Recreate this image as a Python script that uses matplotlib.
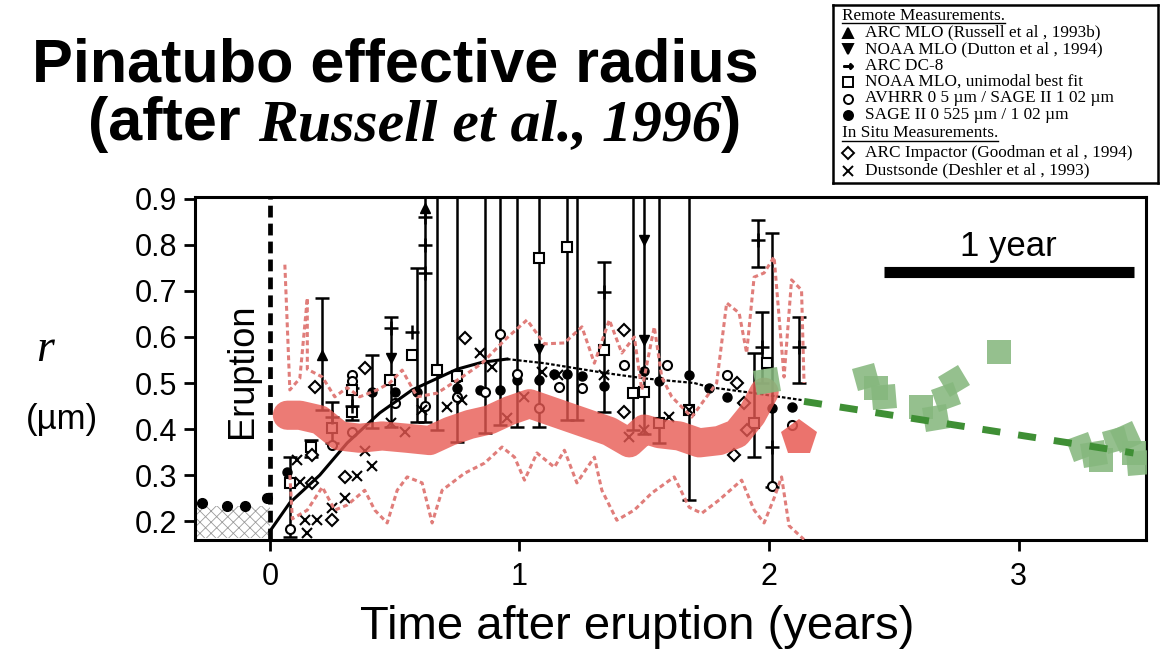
import matplotlib
matplotlib.use("Agg")
import matplotlib.pyplot as plt
from matplotlib.markers import MarkerStyle
from matplotlib.transforms import Affine2D
import numpy as np

plt.rcParams['font.family'] = ['Liberation Sans', 'DejaVu Sans']
plt.rcParams['hatch.linewidth'] = 0.6

# ---------------- data (time after eruption in years, radius in um) ----------------
pre_t = [-0.27, -0.17, -0.10, -0.01]
pre_r = [0.239, 0.233, 0.233, 0.25]

fit_solid_t = [0.0, 0.08, 0.2, 0.31, 0.44, 0.57, 0.75, 0.85, 0.95]
fit_solid_r = [0.178, 0.24, 0.30, 0.37, 0.435, 0.485, 0.53, 0.545, 0.552]
fit_dot_t = [0.95, 1.10, 1.34, 1.50, 1.70, 1.76, 1.94, 2.13]
fit_dot_r = [0.552, 0.543, 0.522, 0.51, 0.50, 0.491, 0.478, 0.463]

band_t = [0.07, 0.12, 0.2, 0.28, 0.36, 0.45, 0.55, 0.64, 0.72, 0.8, 0.88, 0.96, 1.04,
          1.12, 1.2, 1.28, 1.36, 1.44, 1.5, 1.56, 1.64, 1.72, 1.8, 1.87, 1.93, 1.98]
band_r = [0.43, 0.43, 0.42, 0.385, 0.38, 0.385, 0.38, 0.375, 0.395, 0.41, 0.42, 0.44, 0.455,
          0.44, 0.425, 0.41, 0.395, 0.37, 0.40, 0.39, 0.385, 0.37, 0.375, 0.39, 0.43, 0.48]
blob_t = [2.12]
blob_r = [0.38]

upper_t = [0.06, 0.08, 0.12, 0.15, 0.15, 0.21, 0.26, 0.31, 0.36, 0.43, 0.48, 0.53, 0.59, 0.67,
           0.77, 0.85, 0.94, 1.03, 1.10, 1.18, 1.25, 1.30, 1.36, 1.41, 1.46, 1.49, 1.54, 1.57,
           1.61, 1.69, 1.72, 1.79, 1.83, 1.88, 1.91, 1.94, 1.98, 2.02, 2.06, 2.09, 2.13, 2.14]
upper_r = [0.757, 0.485, 0.51, 0.685, 0.53, 0.513, 0.47, 0.49, 0.47, 0.485, 0.50, 0.528, 0.47, 0.478,
           0.513, 0.543, 0.593, 0.637, 0.585, 0.587, 0.622, 0.543, 0.637, 0.565, 0.6, 0.485, 0.622, 0.513,
           0.47, 0.426, 0.448, 0.5, 0.674, 0.652, 0.565, 0.73, 0.739, 0.774, 0.513, 0.724, 0.702, 0.5]
lower_t = [0.08, 0.09, 0.15, 0.21, 0.26, 0.31, 0.38, 0.42, 0.47, 0.51, 0.55, 0.61, 0.65, 0.69, 0.78,
           0.86, 0.93, 0.98, 1.02, 1.07, 1.14, 1.18, 1.23, 1.30, 1.33, 1.39, 1.46, 1.53, 1.62, 1.68,
           1.73, 1.80, 1.89, 1.94, 1.98, 2.02, 2.05, 2.08, 2.14]
lower_r = [0.30, 0.205, 0.224, 0.274, 0.224, 0.235, 0.267, 0.224, 0.196, 0.267, 0.296, 0.283, 0.196,
           0.267, 0.304, 0.326, 0.361, 0.339, 0.289, 0.348, 0.317, 0.354, 0.283, 0.339, 0.267, 0.202,
           0.224, 0.261, 0.296, 0.23, 0.217, 0.246, 0.289, 0.224, 0.196, 0.25, 0.296, 0.19, 0.16]

eb_t  = [0.08, 0.165, 0.21, 0.25, 0.33, 0.41, 0.485, 0.59, 0.62, 0.67, 0.75, 0.86, 0.92, 0.99,
         1.08, 1.19, 1.23, 1.34, 1.455, 1.50, 1.56, 1.68, 1.94, 1.957, 1.97, 2.01, 2.12]
eb_lo = [0.165, 0.339, 0.441, 0.369, 0.42, 0.402, 0.405, 0.415, 0.415, 0.398, 0.372, 0.391, 0.409,
         0.405, 0.405, 0.42, 0.42, 0.437, 0.398, 0.39, 0.369, 0.246, 0.339, 0.752, 0.50, 0.274, 0.50]
eb_hi = [0.34, 0.376, 0.685, 0.459, 0.49, 0.561, 0.643, 0.75, 1.0, 1.0, 1.0, 1.0, 1.0,
         1.0, 1.0, 1.0, 1.0, 0.763, 1.0, 1.0, 1.0, 1.0, 0.565, 0.854, 0.654, 0.826, 0.643]

sage_fill_t = [0.07, 0.41, 0.50, 0.59, 0.75, 0.75, 0.84, 0.92, 0.99, 1.08, 1.14, 1.19, 1.25, 1.34,
               1.50, 1.56, 1.68, 1.76, 1.83, 2.01, 2.09]
sage_fill_r = [0.307, 0.48, 0.48, 0.48, 0.51, 0.49, 0.485, 0.485, 0.507, 0.507, 0.52, 0.52, 0.515,
               0.493, 0.525, 0.505, 0.517, 0.489, 0.47, 0.445, 0.448]
avhrr_t = [0.08, 0.33, 0.33, 0.25, 0.33, 0.50, 0.62, 0.75, 0.86, 0.92, 0.99, 1.08, 1.16, 1.25, 1.42,
           1.59, 1.83, 2.09, 2.01]
avhrr_r = [0.183, 0.517, 0.505, 0.365, 0.394, 0.456, 0.45, 0.47, 0.48, 0.606, 0.52, 0.445, 0.491,
           0.489, 0.54, 0.539, 0.517, 0.409, 0.276]
noaa_fit_t = [0.08, 0.165, 0.25, 0.33, 0.33, 0.48, 0.57, 0.67, 0.75, 1.08, 1.19, 1.34, 1.455, 1.50,
              1.56, 1.68, 1.94, 1.99]
noaa_fit_r = [0.283, 0.36, 0.402, 0.485, 0.437, 0.507, 0.561, 0.528, 0.515, 0.772, 0.796, 0.572,
              0.478, 0.48, 0.413, 0.441, 0.413, 0.543]
impactor_t = [0.17, 0.17, 0.18, 0.25, 0.30, 0.38, 0.78, 1.42, 1.42, 1.87, 1.86, 1.90, 1.91]
impactor_r = [0.283, 0.343, 0.491, 0.202, 0.296, 0.533, 0.598, 0.615, 0.437, 0.50, 0.343, 0.456, 0.398]
dust_t = [0.11, 0.12, 0.14, 0.19, 0.25, 0.30, 0.35, 0.41, 0.38, 0.485, 0.54, 0.15, 0.61, 0.71, 0.77,
          0.84, 0.89, 0.95, 1.02, 1.09, 1.155, 1.34, 1.44, 1.50, 1.60, 1.68]
dust_r = [0.333, 0.285, 0.202, 0.202, 0.228, 0.25, 0.298, 0.32, 0.352, 0.413, 0.394, 0.174, 0.441,
          0.448, 0.463, 0.565, 0.535, 0.424, 0.47, 0.524, 0.517, 0.517, 0.383, 0.398, 0.426, 0.441]
arc_mlo_t = [0.21, 0.62]
arc_mlo_r = [0.561, 0.88]
noaa_mlo_t = [0.485, 1.08, 1.50, 1.50]
noaa_mlo_r = [0.555, 0.574, 0.81, 0.593]
dc8_t = [0.25, 0.33, 0.485, 0.57, 0.62, 0.62, 0.62, 1.34, 1.957, 1.97, 2.01, 2.12]
dc8_r = [0.426, 0.45, 0.62, 0.61, 0.86, 0.80, 0.74, 0.698, 0.81, 0.578, 0.361, 0.578]

green_t = [1.99, 2.39, 2.43, 2.46, 2.61, 2.67, 2.71, 2.74, 2.92, 3.25, 3.30, 3.33, 3.39, 3.43, 3.46, 3.48]
green_r = [0.505, 0.513, 0.49, 0.47, 0.448, 0.424, 0.47, 0.505, 0.567, 0.361, 0.345, 0.333, 0.376,
           0.383, 0.348, 0.326]
green_ang = [10, 15, 0, 5, 0, 10, 20, 30, 0, 20, 10, 0, 15, 25, 0, 5]
trend_t = [2.14, 3.46]
trend_r = [0.46, 0.348]

yticks = [0.2, 0.3, 0.4, 0.5, 0.6, 0.7, 0.8, 0.9]
xticks = [0, 1, 2, 3]

# ---------------- figure ----------------
fig = plt.figure(figsize=(11.68, 6.5), dpi=100)
ax = fig.add_axes([195/1168, 1-540/650, (1146-195)/1168, (540-197)/650])
ax.set_xlim(-0.30, 3.51)
ax.set_ylim(0.159, 0.904)

# pre-eruption stipple (background aerosol)
ax.fill_between([-0.30, 0.0], [0.163, 0.163], [0.232, 0.232], facecolor='none',
                edgecolor='#9a9a9a', hatch='xxx', linewidth=0, zorder=1)
ax.plot(pre_t, pre_r, 'o', color='k', ms=7, zorder=3)

# eruption line
ax.axvline(0, color='k', lw=3.4, dashes=(2.5, 1.3), zorder=2)

# error bars
eb_mid = [(a + b) / 2 for a, b in zip(eb_lo, eb_hi)]
ax.errorbar(eb_t, eb_mid, yerr=[np.subtract(eb_mid, eb_lo), np.subtract(eb_hi, eb_mid)],
            fmt='none', ecolor='k', elinewidth=1.8, capsize=5, capthick=1.8, zorder=3)

mk = dict(ls='none', zorder=3)
ax.plot(sage_fill_t, sage_fill_r, 'o', color='k', ms=6.5, **mk)
ax.plot(avhrr_t, avhrr_r, 'o', mfc='white', mec='k', mew=1.5, ms=6.5, **mk)
ax.plot(noaa_fit_t, noaa_fit_r, 's', mfc='white', mec='k', mew=1.5, ms=6.5, **mk)
ax.plot(impactor_t, impactor_r, 'D', mfc='white', mec='k', mew=1.5, ms=6, **mk)
ax.plot(dust_t, dust_r, 'x', color='k', mew=1.5, ms=6.5, **mk)
ax.plot(arc_mlo_t, arc_mlo_r, '^', color='k', ms=6.5, **mk)
ax.plot(noaa_mlo_t, noaa_mlo_r, 'v', color='k', ms=6.5, **mk)
ax.plot(dc8_t, dc8_r, '+', color='k', mew=1.8, ms=10, **mk)

# fitted curve
ax.plot(fit_solid_t, fit_solid_r, color='k', lw=2.2, zorder=3.5)
ax.plot(fit_dot_t, fit_dot_r, color='k', lw=1.6, dashes=(1.6, 0.9), zorder=3.5)

# red model band and bounds
red = '#e85a53'
ax.plot(band_t, band_r, color=red, lw=21, alpha=0.8, solid_capstyle='round',
        solid_joinstyle='round', zorder=4)
ax.plot(blob_t, blob_r, 'p', color=red, ms=27, alpha=0.85, mew=0, zorder=4)
ax.plot(upper_t, upper_r, color='#e07d7a', lw=2.2, dashes=(1.6, 1.1), zorder=4.5)
ax.plot(lower_t, lower_r, color='#e07d7a', lw=2.2, dashes=(1.6, 1.1), zorder=4.5)

# green later observations
for t, r, a in zip(green_t, green_r, green_ang):
    ax.plot([t], [r], ls='none', marker=MarkerStyle('s', transform=Affine2D().rotate_deg(a)),
            color='#86b87e', ms=17, mew=0, alpha=0.88, zorder=4.6)
ax.plot(trend_t, trend_r, color='#3f8f35', lw=5, dashes=(2.6, 2.6), zorder=5)

# 1 year scale bar
ax.plot([2.46, 3.46], [0.741, 0.741], color='k', lw=8, solid_capstyle='butt', zorder=5)
ax.text(2.96, 0.796, '1 year', ha='center', va='center', fontsize=25)
ax.text(-0.108, 0.526, 'Eruption', rotation=90, ha='center', va='center', fontsize=26)

# axes styling
ax.set_xticks(xticks)
ax.set_xticklabels([str(v) for v in xticks])
ax.set_yticks(yticks)
ax.set_yticklabels([f'{v:.1f}' for v in yticks])
ax.tick_params(direction='out', length=8, width=2, labelsize=22, pad=5)
ax.tick_params(axis='x', pad=8)
for s in ax.spines.values():
    s.set_linewidth(2.2)
ax.set_xlabel('Time after eruption (years)', fontsize=34)
ax.xaxis.set_label_coords((637 - 195) / 951, -0.19)

fig.text(45/1168, 1-350/650, 'r', family='Liberation Serif', style='italic', fontsize=33,
         ha='center', va='center')
fig.text(62/1168, 1-420/650, '(µm)', fontsize=25, ha='center', va='center')

# title
fig.canvas.draw()
rend = fig.canvas.get_renderer()
fig.text(395/1168, 1-82/650, 'Pinatubo effective radius', fontsize=44, weight='bold',
         ha='center', va='baseline')
parts = [('(after ', dict(weight='bold', fontsize=44)),
         ('Russell et al., 1996', dict(family='Liberation Serif', style='italic', weight='bold', fontsize=43)),
         (')', dict(weight='bold', fontsize=44))]
x = 88 / 1168
for txt, kw in parts:
    t = fig.text(x, 1-140/650, txt, va='baseline', ha='left', **kw)
    bb = t.get_window_extent(renderer=rend)
    x = bb.x1 / fig.bbox.width

# legend box
lax = fig.add_axes([833/1168, 1-183/650, 325/1168, 178/650])
lax.set_xlim(833, 1158)
lax.set_ylim(183, 5)
lax.set_xticks([])
lax.set_yticks([])
for s in lax.spines.values():
    s.set_linewidth(1.8)
lf = dict(family='Liberation Serif', fontsize=12.4, va='center', ha='left')
heads = [('Remote Measurements.', 15.5), ('In Situ Measurements.', 133)]
for h, y in heads:
    tt = lax.text(842, y, h, **lf)
    fig.canvas.draw()
    bb = tt.get_window_extent(renderer=rend).transformed(lax.transData.inverted())
    lax.plot([bb.x0, bb.x1], [y + 7.5, y + 7.5], color='k', lw=1.0)
entries = [('^', 'ARC MLO (Russell et al , 1993b)', 32.5, 'k'),
           ('v', 'NOAA MLO (Dutton et al , 1994)', 49, 'k'),
           ('$\u2192$', 'ARC DC-8', 65.5, 'k'),
           ('s', 'NOAA MLO, unimodal best fit', 82, 'w'),
           ('o', 'AVHRR 0 5 µm / SAGE II 1 02 µm', 98.5, 'w'),
           ('o', 'SAGE II 0 525 µm / 1 02 µm', 115, 'k'),
           ('D', 'ARC Impactor (Goodman et al , 1994)', 153, 'w'),
           ('x', 'Dustsonde (Deshler et al , 1993)', 170.5, 'k')]
for m, label, y, fc in entries:
    lax.plot([848], [y], marker=m, mfc=fc, mec='k', color='k', ms=6.5, mew=1.4, ls='none')
    lax.text(865, y, label, **lf)

fig.savefig('out.png', dpi=100)
